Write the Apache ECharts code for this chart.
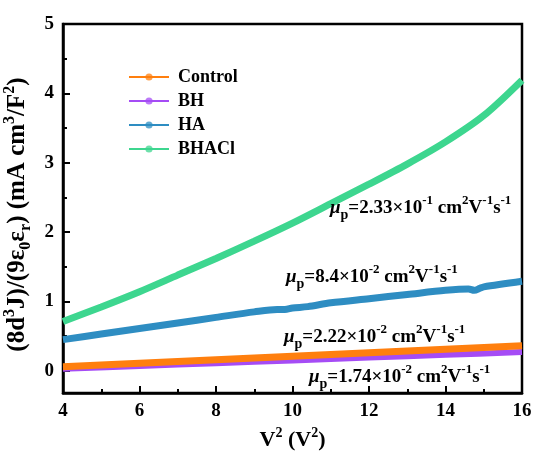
<!DOCTYPE html>
<html>
<head>
<meta charset="utf-8">
<script src="https://cdn.jsdelivr.net/npm/echarts@6/dist/echarts.min.js"></script>
<style>
  html, body { margin: 0; padding: 0; background: #fff; }
  #chart { width: 534px; height: 457px; }
</style>
</head>
<body>
<div id="chart"></div>
<script>
// Space-charge-limited current fits: (8d^3 J)/(9 eps0 epsr) against V^2
const seriesNames = ['Control', 'BH', 'HA', 'BHACl'];

const controlX = [4, 6, 8, 10, 12, 14, 16];
const controlY = [0.06, 0.11, 0.16, 0.21, 0.26, 0.31, 0.36];

const bhX = [4, 6, 8, 10, 12, 14, 16];
const bhY = [0.03, 0.07, 0.11, 0.15, 0.19, 0.23, 0.27];

const haX = [4, 5, 6, 7, 8, 9, 9.6, 9.8, 10, 10.4, 11, 12, 13, 14, 14.6, 14.75, 14.9, 15, 16];
const haY = [0.45, 0.53, 0.61, 0.69, 0.77, 0.85, 0.885, 0.885, 0.905, 0.925, 0.98, 1.04, 1.10, 1.16, 1.18, 1.16, 1.19, 1.21, 1.29];

const bhaclX = [4, 5, 6, 7, 8, 9, 10, 11, 12, 13, 14, 15, 16];
const bhaclY = [0.71, 0.92, 1.14, 1.38, 1.62, 1.87, 2.13, 2.41, 2.69, 2.98, 3.30, 3.68, 4.19];

const yTicks = [0, 1, 2, 3, 4, 5];
const yMinorTicks = [0.5, 1.5, 2.5, 3.5, 4.5];

const mobilityText = {
  Control: ['2.22', '-2'],
  BH: ['1.74', '-2'],
  HA: ['8.4', '-2'],
  BHACl: ['2.33', '-1']
};

const colors = {
  Control: '#FF7F0E',
  BH: '#A54CF5',
  HA: '#2E8DC2',
  BHACl: '#3DD68F'
};

const serif = '"Liberation Serif", "Times New Roman", serif';

function pairs(xs, ys) {
  return xs.map((x, i) => [x, ys[i]]);
}

function richFor(color) {
  return {
    n: { fontFamily: serif, fontWeight: 'bold', fontSize: 19, color: color, lineHeight: 28, verticalAlign: 'middle' },
    mu: { fontFamily: serif, fontWeight: 'bold', fontStyle: 'italic', fontSize: 19, color: color, lineHeight: 28, verticalAlign: 'middle' },
    sub: { fontFamily: serif, fontWeight: 'bold', fontSize: 14, color: color, lineHeight: 28, verticalAlign: 'bottom' },
    sup: { fontFamily: serif, fontWeight: 'bold', fontSize: 13, color: color, lineHeight: 28, verticalAlign: 'top' }
  };
}

function mobilityLabel(name) {
  const m = mobilityText[name];
  return '{mu|\u03bc}{sub|p}{n|=' + m[0] + '\u00d710}{sup|' + m[1] + '}{n| cm}{sup|2}{n|V}{sup|-1}{n|s}{sup|-1}';
}

function lineSeries(name, xs, ys, width) {
  return {
    name: name,
    type: 'line',
    data: pairs(xs, ys),
    smooth: 0.3,
    symbol: 'circle',
    showSymbol: false,
    symbolSize: 7,
    lineStyle: { width: width, color: colors[name] },
    itemStyle: { color: colors[name] },
    emphasis: { disabled: true },
    animation: false
  };
}

const chart = echarts.init(document.getElementById('chart'), null, { renderer: 'canvas' });

const labelPos = {
  BHACl: [330, 208],
  HA: [286, 277],
  Control: [284, 337],
  BH: [309, 377]
};

const graphics = seriesNames.map(name => ({
  type: 'text',
  x: labelPos[name][0],
  y: labelPos[name][1],
  style: {
    text: mobilityLabel(name),
    rich: richFor(colors[name]),
    verticalAlign: 'middle',
    align: 'left'
  },
  z: 100
}));

chart.setOption({
  backgroundColor: '#fff',
  animation: false,
  grid: {
    left: 63, right: 12, top: 24, bottom: 64,
    outerBoundsMode: 'none',
    containLabel: false,
    show: true, borderColor: '#000', borderWidth: 2.5, backgroundColor: 'transparent'
  },
  legend: {
    data: seriesNames,
    orient: 'vertical',
    left: 128,
    top: 68,
    padding: 0,
    itemWidth: 40,
    itemHeight: 9,
    itemGap: 6,
    textStyle: { fontFamily: serif, fontWeight: 'bold', fontSize: 18, color: '#000', padding: [0, 0, 0, 4] },
    lineStyle: { width: 2 },
    itemStyle: { opacity: 0.75 }
  },
  xAxis: [{
    type: 'value',
    min: 4, max: 16, interval: 2,
    name: 'V{sup|2} (V{sup|2})',
    nameLocation: 'middle',
    nameGap: 44,
    nameTextStyle: {
      fontFamily: serif, fontWeight: 'bold', fontSize: 22, color: '#000', lineHeight: 28, verticalAlign: 'middle',
      rich: {
        sup: { fontFamily: serif, fontWeight: 'bold', fontSize: 14, color: '#000', lineHeight: 28, verticalAlign: 'top' }
      }
    },
    axisLine: { onZero: false, lineStyle: { color: '#000', width: 2.5 } },
    axisTick: { inside: true, length: 7, lineStyle: { color: '#000', width: 2 } },
    minorTick: { show: true, splitNumber: 2, length: 4, lineStyle: { color: '#000', width: 2 } },
    axisLabel: { fontFamily: serif, fontWeight: 'bold', fontSize: 19, color: '#000', margin: 9 },
    splitLine: { show: false }
  }],
  yAxis: [{
    type: 'value',
    min: -0.32, max: 5,
    name: '(8d{sup|3}J)/(9\u03b5{sub|0}\u03b5{sub|r}) (mA cm{sup|3}/F{sup|2})',
    nameLocation: 'middle',
    nameGap: 21,
    nameTextStyle: {
      fontFamily: serif, fontWeight: 'bold', fontSize: 25, color: '#000', lineHeight: 32, verticalAlign: 'middle',
      padding: [0, 12, 0, 0],
      rich: {
        sup: { fontFamily: serif, fontWeight: 'bold', fontSize: 16, color: '#000', lineHeight: 32, verticalAlign: 'top' },
        sub: { fontFamily: serif, fontWeight: 'bold', fontSize: 16, color: '#000', lineHeight: 32, verticalAlign: 'bottom' }
      }
    },
    axisLine: { show: true, onZero: false, lineStyle: { color: '#000', width: 2.5 } },
    axisTick: { show: true, inside: true, length: 7, customValues: yTicks, lineStyle: { color: '#000', width: 2 } },
    axisLabel: { fontFamily: serif, fontWeight: 'bold', fontSize: 19, color: '#000', margin: 9, customValues: yTicks },
    splitLine: { show: false }
  }, {
    // minor ticks for the value axis
    type: 'value',
    position: 'left',
    offset: 0,
    min: -0.32, max: 5,
    axisLine: { show: true, onZero: false, lineStyle: { color: 'rgba(0,0,0,0)', width: 1 } },
    axisTick: { show: true, inside: true, length: 4, customValues: yMinorTicks, lineStyle: { color: '#000', width: 2 } },
    axisLabel: { show: false, customValues: yMinorTicks },
    splitLine: { show: false }
  }],
  series: [
    lineSeries('BH', bhX, bhY, 6),
    lineSeries('Control', controlX, controlY, 7),
    lineSeries('HA', haX, haY, 7),
    lineSeries('BHACl', bhaclX, bhaclY, 7)
  ],
  graphic: graphics
});
</script>
</body>
</html>
